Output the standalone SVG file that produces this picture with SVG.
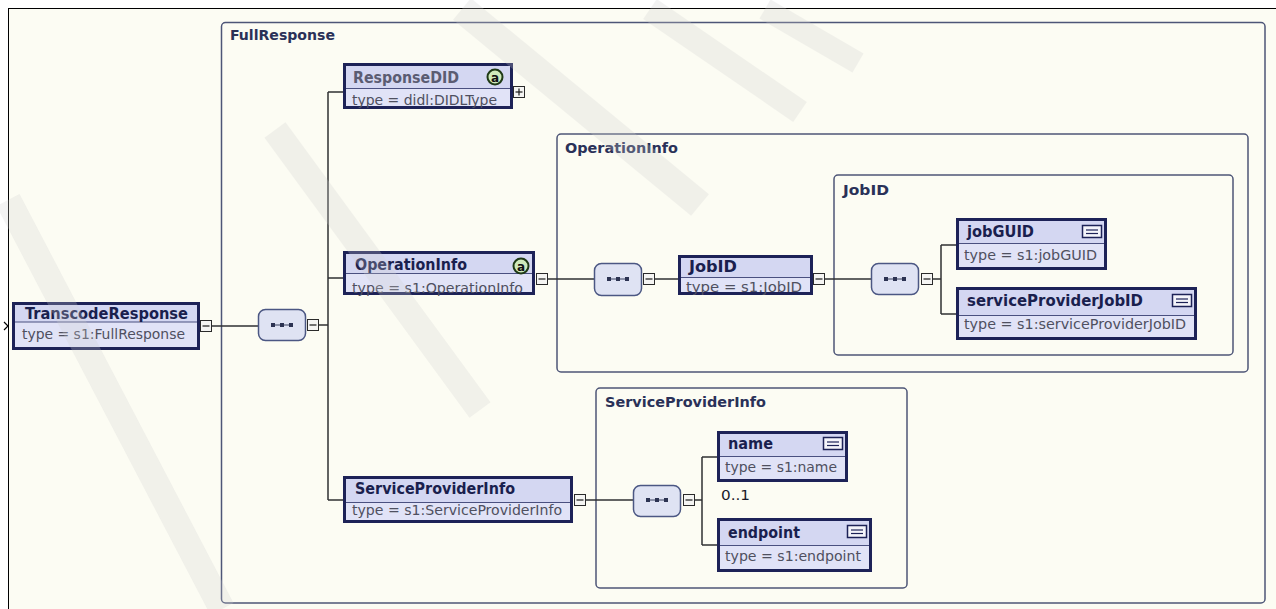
<svg xmlns="http://www.w3.org/2000/svg" width="1276" height="609" viewBox="0 0 1276 609">
  <style>
    .frame { fill: none; stroke: #000; stroke-width: 1; }
    .container { fill: none; stroke: #4d5577; stroke-width: 1.5; }
    .ctitle { font-family: "DejaVu Sans Condensed", "DejaVu Sans", sans-serif; font-weight: bold; font-size: 14px; fill: #2a3158; }
    .box { stroke: #1d2257; stroke-width: 3; }
    .head { fill: #d4d7f2; }
    .body { fill: #e1e3f7; }
    .divider { stroke: #4a5080; stroke-width: 1; }
    .title { font-family: "DejaVu Sans Condensed", "DejaVu Sans", sans-serif; font-weight: bold; font-size: 15px; fill: #1a1f4e; }
    .title.ref { fill: #5b5c72; }
    .type { font-family: "DejaVu Sans Condensed", "DejaVu Sans", sans-serif; font-size: 14px; fill: #4f5060; }
    .label { font-family: "DejaVu Sans Condensed", "DejaVu Sans", sans-serif; font-size: 14px; fill: #1a1a2a; }
    .wire { fill: none; stroke: #2f3033; stroke-width: 1.5; }
    .toggle rect { fill: #f5f5f3; stroke: #2a2a2a; stroke-width: 1; }
    .toggle line { stroke: #1a1a1a; stroke-width: 1.2; }
    .seq rect { fill: #dfe3f3; stroke: #4b5783; stroke-width: 1.5; }
    .seq line { stroke: #39415f; stroke-width: 1; }
    .seq .dot { fill: #2c3352; stroke: none; }
    .attr circle { fill: #cfeabb; stroke: #1f3a16; stroke-width: 2; }
    .attr text { font-family: "DejaVu Sans", sans-serif; font-weight: bold; font-size: 12px; fill: #111; text-anchor: middle; }
    .doc rect { fill: #f4f4fa; stroke: #1d2257; stroke-width: 1.5; }
    .doc line { stroke: #1d2257; stroke-width: 1.2; }
    .band { stroke: #cfcfcf; stroke-linecap: butt; fill: none; }
  </style>

  <!-- page background and frame -->
  <rect x="0" y="0" width="1276" height="609" fill="#ffffff"/>
  <rect x="8.5" y="8.5" width="1268" height="601" fill="#fcfcf3"/>
  <line class="frame" x1="8" y1="8.5" x2="1276" y2="8.5"/>
  <line class="frame" x1="8.5" y1="8" x2="8.5" y2="609"/>
  <path d="M4,322 L8,326 L4,330" fill="none" stroke="#000" stroke-width="1.2"/>

  <!-- type containers -->
  <g id="container-FullResponse">
    <rect class="container" x="221.5" y="22.5" width="1043.5" height="580.5" rx="4"/>
    <text class="ctitle" x="230" y="40" textLength="105" lengthAdjust="spacingAndGlyphs">FullResponse</text>
  </g>
  <g id="container-OperationInfo">
    <rect class="container" x="557" y="134" width="691" height="238" rx="4"/>
    <text class="ctitle" x="565" y="153" textLength="113" lengthAdjust="spacingAndGlyphs">OperationInfo</text>
  </g>
  <g id="container-JobID">
    <rect class="container" x="834" y="175" width="399" height="180" rx="4"/>
    <text class="ctitle" x="843" y="195" textLength="46" lengthAdjust="spacingAndGlyphs">JobID</text>
  </g>
  <g id="container-ServiceProviderInfo">
    <rect class="container" x="596" y="388" width="311" height="200" rx="4"/>
    <text class="ctitle" x="605" y="407" textLength="161" lengthAdjust="spacingAndGlyphs">ServiceProviderInfo</text>
  </g>

  <!-- connectors -->
  <g id="connectors">
    <path class="wire" d="M212,326 H258"/>
    <path class="wire" d="M319,325 H328 M328,92 V500 M328,92 H343 M328,278 H343 M328,500 H343"/>
    <path class="wire" d="M547,279 H594"/>
    <path class="wire" d="M655,279 H678"/>
    <path class="wire" d="M825,279 H871"/>
    <path class="wire" d="M933,279 H941 M941,245 V314 M941,245 H956 M941,314 H956"/>
    <path class="wire" d="M586,500 H633"/>
    <path class="wire" d="M694,500 H702 M702,457 V545 M702,457 H717 M702,545 H717"/>
  </g>

  <!-- sequence compositors -->
  <g id="seq-FullResponse" class="seq">
    <rect x="258.5" y="309.5" width="47" height="31" rx="7"/>
    <line x1="273" y1="325" x2="291" y2="325"/>
    <rect class="dot" x="271" y="323" width="4" height="4"/><rect class="dot" x="280" y="323" width="4" height="4"/><rect class="dot" x="289" y="323" width="4" height="4"/>
  </g>
  <g id="seq-OperationInfo" class="seq">
    <rect x="594.5" y="263.5" width="47" height="32" rx="7"/>
    <line x1="609" y1="279" x2="627" y2="279"/>
    <rect class="dot" x="607" y="277" width="4" height="4"/><rect class="dot" x="616" y="277" width="4" height="4"/><rect class="dot" x="625" y="277" width="4" height="4"/>
  </g>
  <g id="seq-JobID" class="seq">
    <rect x="871.5" y="263.5" width="47" height="31" rx="7"/>
    <line x1="886" y1="279" x2="904" y2="279"/>
    <rect class="dot" x="884" y="277" width="4" height="4"/><rect class="dot" x="893" y="277" width="4" height="4"/><rect class="dot" x="902" y="277" width="4" height="4"/>
  </g>
  <g id="seq-ServiceProviderInfo" class="seq">
    <rect x="633.5" y="485.5" width="47" height="31" rx="7"/>
    <line x1="648" y1="500" x2="666" y2="500"/>
    <rect class="dot" x="646" y="498" width="4" height="4"/><rect class="dot" x="655" y="498" width="4" height="4"/><rect class="dot" x="664" y="498" width="4" height="4"/>
  </g>

  <!-- expand / collapse toggles -->
  <g id="toggles" class="toggle">
    <rect x="200.5" y="320.5" width="11" height="11"/><line x1="202.5" y1="326" x2="209.5" y2="326"/>
    <rect x="307.5" y="319.5" width="11" height="11"/><line x1="309.5" y1="325" x2="316.5" y2="325"/>
    <rect x="513.5" y="86.5" width="11" height="11"/><line x1="515.5" y1="92" x2="522.5" y2="92"/><line x1="519" y1="88.5" x2="519" y2="95.5"/>
    <rect x="536.5" y="273.5" width="11" height="11"/><line x1="538.5" y1="279" x2="545.5" y2="279"/>
    <rect x="643.5" y="273.5" width="11" height="11"/><line x1="645.5" y1="279" x2="652.5" y2="279"/>
    <rect x="813.5" y="273.5" width="11" height="11"/><line x1="815.5" y1="279" x2="822.5" y2="279"/>
    <rect x="921.5" y="273.5" width="11" height="11"/><line x1="923.5" y1="279" x2="930.5" y2="279"/>
    <rect x="574.5" y="494.5" width="11" height="11"/><line x1="576.5" y1="500" x2="583.5" y2="500"/>
    <rect x="683.5" y="494.5" width="11" height="11"/><line x1="685.5" y1="500" x2="692.5" y2="500"/>
  </g>

  <!-- element nodes -->
  <g id="node-TranscodeResponse">
    <rect class="head" x="13.5" y="303.5" width="185" height="18.5"/>
    <rect class="body" x="13.5" y="322" width="185" height="26.5"/>
    <rect class="box" fill="none" x="13.5" y="303.5" width="185" height="45"/>
    <line class="divider" x1="15" y1="322" x2="197" y2="322"/>
    <text class="title" x="25" y="319" textLength="163" lengthAdjust="spacingAndGlyphs">TranscodeResponse</text>
    <text class="type" x="22" y="339" textLength="163" lengthAdjust="spacingAndGlyphs">type = s1:FullResponse</text>
  </g>

  <g id="node-ResponseDID">
    <rect class="head" x="344.5" y="64.5" width="167" height="23.5"/>
    <rect class="body" x="344.5" y="88" width="167" height="19.5"/>
    <rect class="box" fill="none" x="344.5" y="64.5" width="167" height="43"/>
    <line class="divider" x1="346" y1="88.5" x2="510" y2="88.5"/>
    <text class="title ref" x="353" y="83" textLength="106" lengthAdjust="spacingAndGlyphs">ResponseDID</text>
    <text class="type" x="352" y="105" textLength="145" lengthAdjust="spacingAndGlyphs">type = didl:DIDLType</text>
    <g class="attr"><circle cx="495" cy="77" r="7.5"/><text x="495" y="81.5">a</text></g>
  </g>

  <g id="node-OperationInfo">
    <rect class="head" x="344.5" y="252.5" width="189" height="20.5"/>
    <rect class="body" x="344.5" y="273" width="189" height="20.5"/>
    <rect class="box" fill="none" x="344.5" y="252.5" width="189" height="41"/>
    <line class="divider" x1="346" y1="273.5" x2="532" y2="273.5"/>
    <text class="title" x="355" y="270" textLength="112" lengthAdjust="spacingAndGlyphs">OperationInfo</text>
    <text class="type" x="352" y="293" textLength="171" lengthAdjust="spacingAndGlyphs">type = s1:OperationInfo</text>
    <g class="attr"><circle cx="521" cy="266" r="7.5"/><text x="521" y="270.5">a</text></g>
  </g>

  <g id="node-ServiceProviderInfo">
    <rect class="head" x="344.5" y="477.5" width="227" height="24.5"/>
    <rect class="body" x="344.5" y="502" width="227" height="19.5"/>
    <rect class="box" fill="none" x="344.5" y="477.5" width="227" height="44"/>
    <line class="divider" x1="346" y1="502.5" x2="570" y2="502.5"/>
    <text class="title" x="355" y="494" textLength="160" lengthAdjust="spacingAndGlyphs">ServiceProviderInfo</text>
    <text class="type" x="352" y="515" textLength="210" lengthAdjust="spacingAndGlyphs">type = s1:ServiceProviderInfo</text>
  </g>

  <g id="node-JobID">
    <rect class="head" x="679.5" y="256.5" width="132" height="21"/>
    <rect class="body" x="679.5" y="277.5" width="132" height="16"/>
    <rect class="box" fill="none" x="679.5" y="256.5" width="132" height="37"/>
    <line class="divider" x1="681" y1="277.5" x2="810" y2="277.5"/>
    <text class="title" x="689" y="272" textLength="48" lengthAdjust="spacingAndGlyphs">JobID</text>
    <text class="type" x="686" y="292" textLength="116" lengthAdjust="spacingAndGlyphs">type = s1:JobID</text>
  </g>

  <g id="node-jobGUID">
    <rect class="head" x="957.5" y="219.5" width="148" height="23.5"/>
    <rect class="body" x="957.5" y="243" width="148" height="25.5"/>
    <rect class="box" fill="none" x="957.5" y="219.5" width="148" height="49"/>
    <line class="divider" x1="959" y1="243.5" x2="1104" y2="243.5"/>
    <text class="title" x="967" y="237" textLength="67" lengthAdjust="spacingAndGlyphs">jobGUID</text>
    <text class="type" x="964" y="260" textLength="133" lengthAdjust="spacingAndGlyphs">type = s1:jobGUID</text>
    <g class="doc"><rect x="1082.5" y="225.5" width="19" height="12"/><line x1="1086" y1="230" x2="1098" y2="230"/><line x1="1086" y1="233.5" x2="1098" y2="233.5"/></g>
  </g>

  <g id="node-serviceProviderJobID">
    <rect class="head" x="957.5" y="288.5" width="238" height="26.5"/>
    <rect class="body" x="957.5" y="315" width="238" height="23.5"/>
    <rect class="box" fill="none" x="957.5" y="288.5" width="238" height="50"/>
    <line class="divider" x1="959" y1="315.5" x2="1194" y2="315.5"/>
    <text class="title" x="967" y="306" textLength="176" lengthAdjust="spacingAndGlyphs">serviceProviderJobID</text>
    <text class="type" x="964" y="329" textLength="222" lengthAdjust="spacingAndGlyphs">type = s1:serviceProviderJobID</text>
    <g class="doc"><rect x="1172.5" y="294.5" width="19" height="12"/><line x1="1176" y1="299" x2="1188" y2="299"/><line x1="1176" y1="302.5" x2="1188" y2="302.5"/></g>
  </g>

  <g id="node-name">
    <rect class="head" x="718.5" y="432.5" width="128" height="23.5"/>
    <rect class="body" x="718.5" y="456" width="128" height="24.5"/>
    <rect class="box" fill="none" x="718.5" y="432.5" width="128" height="48"/>
    <line class="divider" x1="720" y1="456.5" x2="845" y2="456.5"/>
    <text class="title" x="728" y="449" textLength="45" lengthAdjust="spacingAndGlyphs">name</text>
    <text class="type" x="725" y="472" textLength="112" lengthAdjust="spacingAndGlyphs">type = s1:name</text>
    <g class="doc"><rect x="823.5" y="437.5" width="19" height="12"/><line x1="827" y1="442" x2="839" y2="442"/><line x1="827" y1="445.5" x2="839" y2="445.5"/></g>
  </g>
  <text id="occurs-name" class="label" x="721" y="500" textLength="29" lengthAdjust="spacingAndGlyphs">0..1</text>

  <g id="node-endpoint">
    <rect class="head" x="718.5" y="519.5" width="152" height="25.5"/>
    <rect class="body" x="718.5" y="545" width="152" height="25.5"/>
    <rect class="box" fill="none" x="718.5" y="519.5" width="152" height="51"/>
    <line class="divider" x1="720" y1="545.5" x2="869" y2="545.5"/>
    <text class="title" x="728" y="538" textLength="72" lengthAdjust="spacingAndGlyphs">endpoint</text>
    <text class="type" x="725" y="561" textLength="136" lengthAdjust="spacingAndGlyphs">type = s1:endpoint</text>
    <g class="doc"><rect x="847.5" y="525.5" width="19" height="12"/><line x1="851" y1="530" x2="863" y2="530"/><line x1="851" y1="533.5" x2="863" y2="533.5"/></g>
  </g>

  <!-- faint diagonal watermark bands over the page -->
  <g id="watermark" opacity="0.25">
    <line class="band" stroke-width="26" x1="8" y1="200" x2="222" y2="609"/>
    <line class="band" stroke-width="26" x1="275" y1="130" x2="480" y2="410"/>
    <line class="band" stroke-width="28" x1="462" y1="9" x2="700" y2="205"/>
    <line class="band" stroke-width="24" x1="650" y1="9" x2="800" y2="112"/>
    <line class="band" stroke-width="22" x1="765" y1="9" x2="858" y2="63"/>
  </g>
</svg>
